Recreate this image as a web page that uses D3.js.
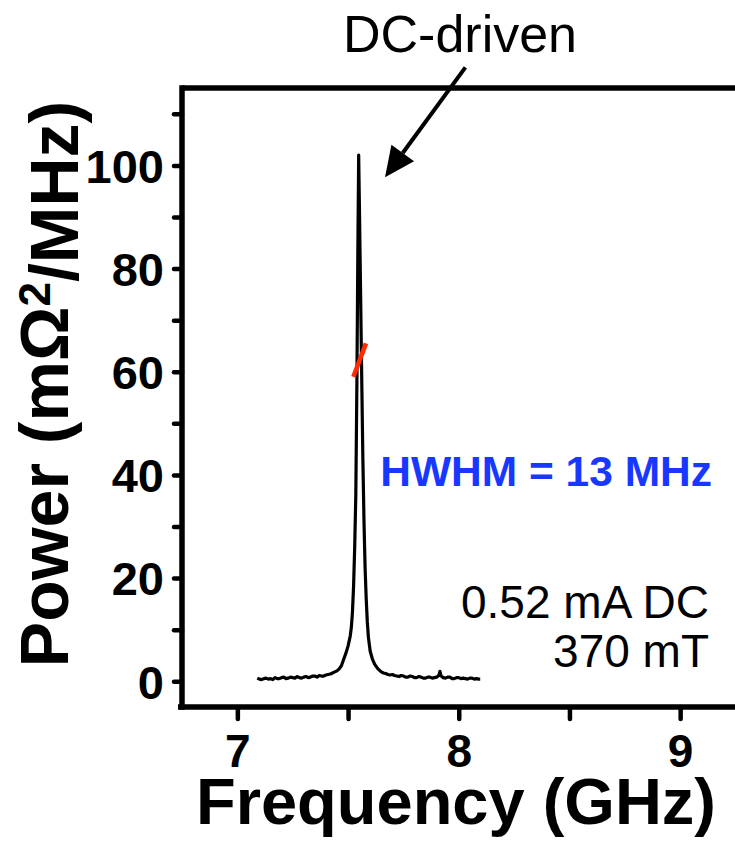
<!DOCTYPE html>
<html>
<head>
<meta charset="utf-8">
<script src="https://cdn.jsdelivr.net/npm/d3@7"></script>
<style>
  html, body { margin: 0; padding: 0; background: #fff; }
  svg { display: block; }
  text { font-family: "Liberation Sans", Arial, Helvetica, sans-serif; }
</style>
</head>
<body>
<svg id="chart" width="735" height="843"></svg>
<script>
// ---- Data ----
const frequencyGHz = [
  7.09, 7.10, 7.11, 7.12, 7.13, 7.14, 7.15, 7.16, 7.17, 7.18, 7.19, 7.20,
  7.21, 7.22, 7.23, 7.24, 7.25, 7.26, 7.27, 7.28, 7.29, 7.30, 7.31, 7.32,
  7.33, 7.34, 7.35, 7.36, 7.37, 7.38, 7.39, 7.40, 7.41, 7.42, 7.43, 7.44,
  7.45, 7.46, 7.47, 7.48, 7.49, 7.50, 7.51, 7.515, 7.52, 7.525, 7.53, 7.535,
  7.54, 7.544, 7.548, 7.552, 7.557, 7.562, 7.567, 7.572, 7.577, 7.582, 7.587,
  7.592, 7.60, 7.61, 7.62, 7.635, 7.65, 7.66, 7.67, 7.68, 7.69, 7.70, 7.71,
  7.72, 7.73, 7.74, 7.75, 7.76, 7.77, 7.78, 7.79, 7.80, 7.81, 7.82, 7.83,
  7.84, 7.85, 7.86, 7.87, 7.88, 7.89, 7.90, 7.91, 7.915, 7.92, 7.93, 7.94,
  7.95, 7.96, 7.97, 7.98, 7.99, 8.00, 8.01, 8.02, 8.03, 8.04, 8.05, 8.06,
  8.07, 8.08, 8.09, 8.097
];
const powerValues = [
  0.6, 0.4, 0.3, 0.5, 0.6, 0.4, 0.5, 0.3, 0.7, 0.5, 0.5, 0.7,
  0.8, 0.5, 0.6, 0.8, 0.7, 0.6, 0.9, 0.7, 0.6, 0.8, 0.9, 0.7,
  0.8, 1.0, 1.0, 0.8, 1.1, 1.0, 1.0, 1.2, 1.3, 1.4, 1.6, 1.8,
  2.0, 2.4, 3.0, 4.2, 5.4, 6.8, 8.8, 10.5, 13.5, 18.5, 26, 36,
  58, 82, 102, 90, 74, 58, 43, 31, 22, 16, 11.5,
  8.5, 5.8, 4.3, 3.3, 2.4, 1.8, 1.6, 1.5, 1.3, 1.2, 1.3, 1.1,
  1.0, 0.9, 1.1, 1.0, 0.8, 0.8, 1.0, 0.9, 0.7, 0.7, 0.9, 0.8,
  0.6, 0.6, 0.8, 0.8, 0.6, 0.7, 0.8, 1.1, 1.9, 1.0, 0.7, 0.6,
  0.8, 0.8, 0.5, 0.5, 0.7, 0.7, 0.5, 0.6, 0.5, 0.4, 0.6, 0.6,
  0.4, 0.5, 0.4, 0.4
];
// red fit fragment visible across the peak
const fitFreq = [7.524, 7.581];
const fitPower = [59.0, 65.5];

const xTickValues = [7, 7.5, 8, 8.5, 9];
const xTickLabels = ["7", "", "8", "", "9"];
const yTickValues = [0, 10, 20, 30, 40, 50, 60, 70, 80, 90, 100, 110];
const yTickLabels = ["0", "", "20", "", "40", "", "60", "", "80", "", "100", ""];

const xDomain = [6.75, 9.25];
const yDomain = [-5, 115];

// ---- Layout ----
const svg = d3.select("#chart");
const mLeft = 182, mRight = 735.5, mTop = 88, mBottom = 707;

const x = d3.scaleLinear().domain(xDomain).range([mLeft, mRight]);
const y = d3.scaleLinear().domain(yDomain).range([mBottom, mTop]);

const data = frequencyGHz.map((f, i) => ({ f, p: powerValues[i] }));

// data line
svg.append("path")
  .datum(data)
  .attr("fill", "none")
  .attr("stroke", "#000")
  .attr("stroke-width", 3.2)
  .attr("stroke-linejoin", "round")
  .attr("d", d3.line().x(d => x(d.f)).y(d => y(d.p)));

// red fit fragment
svg.append("path")
  .datum(fitFreq.map((f, i) => ({ f, p: fitPower[i] })))
  .attr("fill", "none")
  .attr("stroke", "#ff2a00")
  .attr("stroke-width", 4.5)
  .attr("d", d3.line().x(d => x(d.f)).y(d => y(d.p)));

// axes
const xAxis = d3.axisBottom(x)
  .tickValues(xTickValues)
  .tickFormat((d, i) => xTickLabels[i])
  .tickSize(12)
  .tickPadding(15);
const gx = svg.append("g").attr("transform", `translate(0,${mBottom})`).call(xAxis);
gx.select(".domain").remove();
gx.selectAll(".tick line").attr("stroke", "#000").attr("stroke-width", 4.5).attr("stroke-linecap", "round");
gx.selectAll(".tick text")
  .attr("fill", "#000")
  .style("font-size", "46px")
  .style("font-weight", "bold")
  .attr("dy", "0.71em");

const yAxis = d3.axisLeft(y)
  .tickValues(yTickValues)
  .tickFormat((d, i) => yTickLabels[i])
  .tickSize(8)
  .tickPadding(10);
const gy = svg.append("g").attr("transform", `translate(${mLeft},0)`).call(yAxis);
gy.select(".domain").remove();
gy.selectAll(".tick line").attr("stroke", "#000").attr("stroke-width", 4.5).attr("stroke-linecap", "round");
gy.selectAll(".tick text")
  .attr("fill", "#000")
  .style("font-size", "47px")
  .style("font-weight", "bold")
  .attr("dy", "0.36em");

// frame lines (left, bottom, top)
const frame = svg.append("g").attr("stroke", "#000").attr("stroke-width", 5.5).attr("fill", "none");
frame.append("line").attr("x1", mLeft).attr("x2", mLeft).attr("y1", mTop - 2.75).attr("y2", mBottom + 2.75);
frame.append("line").attr("x1", mLeft - 4).attr("x2", 735).attr("y1", mBottom).attr("y2", mBottom);
frame.append("line").attr("x1", mLeft).attr("x2", 735).attr("y1", mTop).attr("y2", mTop);

// axis titles
svg.append("text")
  .attr("x", 456).attr("y", 824)
  .attr("text-anchor", "middle")
  .style("font-size", "65px").style("font-weight", "bold")
  .text("Frequency (GHz)");

const yl = svg.append("text")
  .attr("transform", "translate(68,384) rotate(-90)")
  .attr("text-anchor", "middle")
  .style("font-size", "68px").style("font-weight", "bold");
yl.append("tspan").text("Power (mΩ");
yl.append("tspan").attr("dy", "-0.42em").style("font-size", "44px").text("2");
yl.append("tspan").attr("dy", "0.42em").text("/MHz)");

// annotations
svg.append("text")
  .attr("x", 460).attr("y", 52)
  .attr("text-anchor", "middle")
  .style("font-size", "52px")
  .text("DC-driven");

// arrow
const tail = [x(8.03), y(119)];
const tip = [x(7.667), y(97.7)];
const ang = Math.atan2(tip[1] - tail[1], tip[0] - tail[0]);
const headLen = 30, headW = 14;
const baseX = tip[0] - headLen * Math.cos(ang), baseY = tip[1] - headLen * Math.sin(ang);
svg.append("line")
  .attr("x1", tail[0]).attr("y1", tail[1]).attr("x2", baseX).attr("y2", baseY)
  .attr("stroke", "#000").attr("stroke-width", 4);
svg.append("path")
  .attr("fill", "#000")
  .attr("d", `M${tip[0]},${tip[1]} L${baseX + headW * Math.sin(ang)},${baseY - headW * Math.cos(ang)} L${baseX - headW * Math.sin(ang)},${baseY + headW * Math.cos(ang)} Z`);

svg.append("text")
  .attr("x", 712).attr("y", 486)
  .attr("text-anchor", "end")
  .attr("fill", "#1838ff")
  .style("font-size", "42.5px").style("font-weight", "bold")
  .text("HWHM = 13 MHz");

svg.append("text")
  .attr("x", 709).attr("y", 618)
  .attr("text-anchor", "end")
  .style("font-size", "46px")
  .text("0.52 mA DC");
svg.append("text")
  .attr("x", 709).attr("y", 667)
  .attr("text-anchor", "end")
  .style("font-size", "46px")
  .text("370 mT");
</script>
</body>
</html>
